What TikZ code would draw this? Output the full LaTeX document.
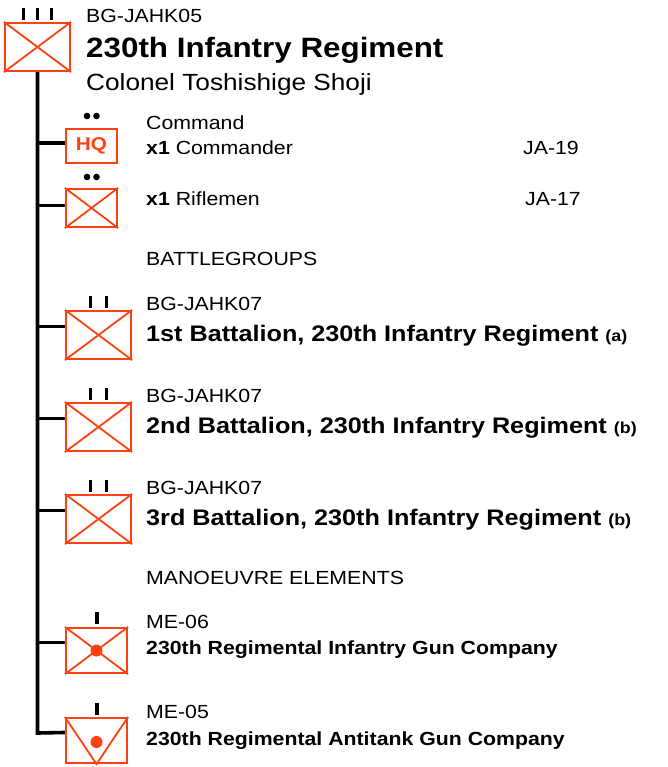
\documentclass[tikz,border=0pt]{standalone}
\usepackage{fontspec}
\setmainfont{Liberation Sans}[FakeStretch=1.12]
\usetikzlibrary{calc}
\definecolor{unitred}{RGB}{255,64,16}
\begin{document}
\begin{tikzpicture}[x=1pt,y=-1pt,
  ubox/.style={draw=unitred,line width=2.2pt,inner sep=0pt,fill=white},
  diag/.style={draw=unitred,line width=1.8pt},
  trunk/.style={draw=black,line width=3.6pt},
  bar/.style={draw=black,line width=3.6pt},
  txt/.style={anchor=base west,inner sep=0pt,font=\fontsize{19}{19}\selectfont},
  bigtxt/.style={anchor=base west,inner sep=0pt,font=\fontsize{28}{28}\selectfont\bfseries},
  nametxt/.style={anchor=base west,inner sep=0pt,font=\fontsize{23.4}{23.4}\selectfont},
  battxt/.style={anchor=base west,inner sep=0pt,font=\fontsize{22.5}{22.5}\selectfont\bfseries},
  comptxt/.style={anchor=base west,inner sep=0pt,font=\fontsize{19}{19}\selectfont\bfseries}]
\useasboundingbox (0,0) rectangle (668,767);

% symbols
\node[ubox,minimum width=65pt,minimum height=48pt] (top) at (37.5,47) {};
\node[ubox,minimum width=51pt,minimum height=34pt,text=unitred,font=\fontsize{18.5}{18.5}\selectfont\bfseries] (hq) at (91.5,146) {HQ};
\node[ubox,minimum width=51pt,minimum height=38pt] (rif) at (91.5,208) {};
\node[ubox,minimum width=65pt,minimum height=48pt] (b1) at (98.5,335) {};
\node[ubox,minimum width=65pt,minimum height=48pt] (b2) at (98.5,427) {};
\node[ubox,minimum width=65pt,minimum height=48pt] (b3) at (98.5,519) {};
\node[ubox,minimum width=61pt,minimum height=45pt] (me6) at (96.5,650.5) {};
\node[ubox,minimum width=61pt,minimum height=45pt] (me5) at (96.5,740.5) {};

% crosses
\foreach \b in {top,rif,b1,b2,b3,me6}
  \draw[diag] (\b.north west) -- (\b.south east) (\b.north east) -- (\b.south west);
\draw[diag] (me5.north west) -- (me5.south) -- (me5.north east);
\fill[unitred] (me6.center) circle (6);
\fill[unitred] (96.5,742) circle (6);

% echelon marks
\foreach \x in {23.5,37.5,51.5} \draw[bar] (\x,8) -- (\x,20);
\fill (87,116) circle (3.3); \fill (96.5,116) circle (3.3);
\fill (87,177) circle (3.3); \fill (96.5,177) circle (3.3);
\foreach \y in {296,388,480} {\draw[bar] (90.5,\y) -- (90.5,\y+12); \draw[bar] (106.5,\y) -- (106.5,\y+12);}
\draw[bar] (97,612) -- (97,624);
\draw[bar] (97,703) -- (97,715);

% connectors
\coordinate (tend) at (37.5,733);
\foreach \b/\f in {hq/0.42,rif/0.44,b1/0.33,b2/0.33,b3/0.33,me6/0.33,me5/0.33} {
  \coordinate (w\b) at ($(\b.north west)!\f!(\b.south west)$);
}
\draw[trunk] (top.south) -- (tend) -- (wme5);
\foreach \b in {hq,rif,b1,b2,b3,me6}
  \draw[trunk] (w\b) -- (w\b -| top.south);

% texts
\node[txt] (t0) at (86,23) {BG-JAHK05};
\node[bigtxt] (t1) at (86,58) {230th Infantry Regiment};
\node[nametxt] (t2) at (86,91) {Colonel Toshishige Shoji};

\node[txt] (c1) at (146,130) {Command};
\node[txt] (c2) at (146,155) {\textbf{x1} Commander};
\node[txt] (c3) at (523,155) {JA-19};
\node[txt] (c4) at (146,205) {\textbf{x1} Riflemen};
\node[txt] (c5) at (525,205) {JA-17};

\node[txt] (h1) at (146,265) {BATTLEGROUPS};
\node[txt] (g1) at (146,310) {BG-JAHK07};
\node[battxt] (n1) at (146,341) {1st Battalion, 230th Infantry Regiment {\fontsize{16}{16}\selectfont (a)}};
\node[txt] (g2) at (146,402) {BG-JAHK07};
\node[battxt] (n2) at (146,433) {2nd Battalion, 230th Infantry Regiment {\fontsize{16}{16}\selectfont (b)}};
\node[txt] (g3) at (146,494) {BG-JAHK07};
\node[battxt] (n3) at (146,525) {3rd Battalion, 230th Infantry Regiment {\fontsize{16}{16}\selectfont (b)}};

\node[txt] (h2) at (146,584) {MANOEUVRE ELEMENTS};
\node[txt] (m1) at (146,628) {ME-06};
\node[comptxt] (m2) at (146,654) {230th Regimental Infantry Gun Company};
\node[txt] (m3) at (146,718) {ME-05};
\node[comptxt] (m4) at (146,745) {230th Regimental Antitank Gun Company};
\end{tikzpicture}
\end{document}
